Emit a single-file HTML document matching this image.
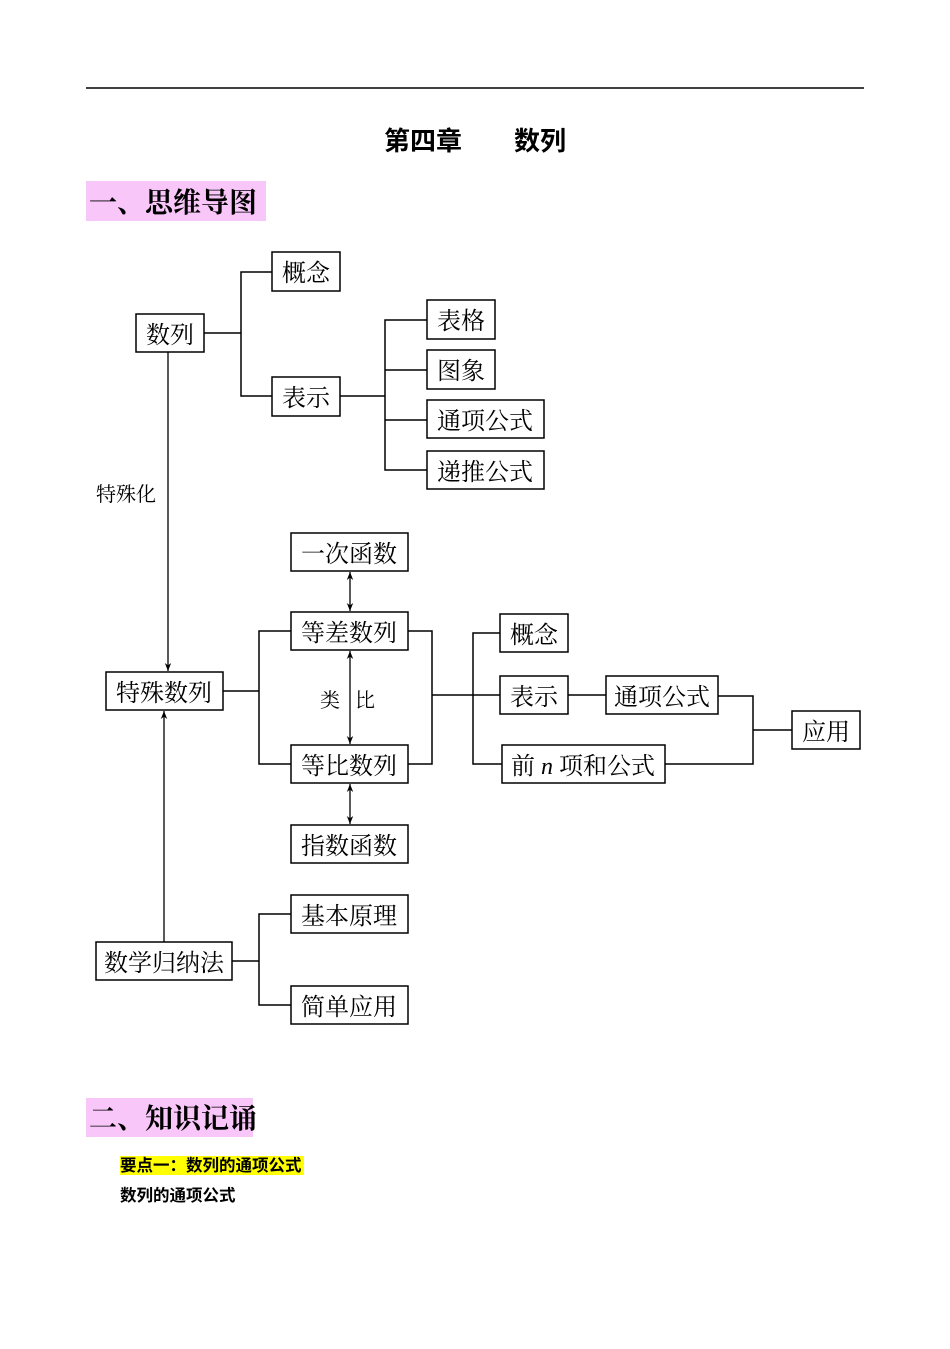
<!DOCTYPE html>
<html><head><meta charset="utf-8"><style>
html,body{margin:0;padding:0;background:#fff;}
body{width:950px;height:1344px;overflow:hidden;}
svg text{font-family:"Liberation Serif","Noto Serif CJK SC",serif;}
</style></head><body>
<svg width="950" height="1344" xmlns="http://www.w3.org/2000/svg">
<defs>
<marker id="a" viewBox="0 0 10 10" refX="10" refY="5" markerWidth="8" markerHeight="8" orient="auto-start-reverse" markerUnits="userSpaceOnUse"><path d="M0,1 L10,5 L0,9 L3,5 Z" fill="#000"/></marker>
</defs>
<line x1="86" y1="88" x2="864" y2="88" stroke="#000" stroke-width="1.5"/>
<text x="475" y="150" text-anchor="middle" font-size="26" font-weight="bold" style="font-family:'Liberation Sans','Noto Sans CJK SC',sans-serif">第四章　　数列</text>
<rect x="86" y="181" width="180" height="40" fill="#f9c6f9"/>
<text x="89" y="212" font-size="28" font-weight="bold">一、思维导图</text>
<rect x="86" y="1098" width="167" height="39" fill="#f9c6f9"/>
<text x="89" y="1128" font-size="28" font-weight="bold">二、知识记诵</text>
<rect x="120" y="1156" width="184" height="19" fill="#ffff00"/>
<text x="120" y="1171" font-size="16.5" font-weight="bold" style="font-family:'Liberation Sans','Noto Sans CJK SC',sans-serif">要点一：数列的通项公式</text>
<text x="120" y="1201" font-size="16.5" font-weight="bold" style="font-family:'Liberation Sans','Noto Sans CJK SC',sans-serif">数列的通项公式</text>
<g fill="#fff" stroke="#000" stroke-width="1.5">
<rect x="272" y="252" width="68" height="39"/>
<rect x="136" y="314" width="68" height="38"/>
<rect x="272" y="377" width="68" height="39"/>
<rect x="427" y="300" width="68" height="39"/>
<rect x="427" y="350" width="68" height="39"/>
<rect x="427" y="400" width="117" height="38"/>
<rect x="427" y="451" width="117" height="38"/>
<rect x="291" y="533" width="117" height="38"/>
<rect x="291" y="612" width="117" height="38"/>
<rect x="106" y="672" width="117" height="38"/>
<rect x="291" y="745" width="117" height="38"/>
<rect x="291" y="825" width="117" height="38"/>
<rect x="500" y="614" width="68" height="38"/>
<rect x="500" y="676" width="68" height="38"/>
<rect x="606" y="676" width="112" height="38"/>
<rect x="502" y="745" width="163" height="38"/>
<rect x="792" y="711" width="68" height="38"/>
<rect x="291" y="895" width="117" height="38"/>
<rect x="96" y="942" width="136" height="38"/>
<rect x="291" y="986" width="117" height="38"/>
</g>
<g fill="none" stroke="#000" stroke-width="1.5">
<path d="M204,333H241M272,272H241V396H272"/>
<path d="M340,396H385M427,320H385V470H427M385,370H427M385,420H427"/>
<path d="M223,691H259M291,631H259V764H291"/>
<path d="M408,631H432V764H408M432,695H500M500,633H473V764H502"/>
<path d="M568,695H606M718,696H753V764H665M753,730H792"/>
<path d="M232,961H259M291,914H259V1005H291"/>
</g>
<g stroke="#000" stroke-width="1.3">
<line x1="168" y1="352" x2="168" y2="671" marker-end="url(#a)"/>
<line x1="164" y1="942" x2="164" y2="711" marker-end="url(#a)"/>
<line x1="350" y1="572" x2="350" y2="611" marker-start="url(#a)" marker-end="url(#a)"/>
<line x1="350" y1="651" x2="350" y2="744" marker-start="url(#a)" marker-end="url(#a)"/>
<line x1="350" y1="784" x2="350" y2="824" marker-start="url(#a)" marker-end="url(#a)"/>
</g>
<g font-size="24" text-anchor="middle">
<text x="306" y="281">概念</text>
<text x="170" y="343">数列</text>
<text x="306" y="406">表示</text>
<text x="461" y="329">表格</text>
<text x="461" y="379">图象</text>
<text x="485" y="429">通项公式</text>
<text x="485" y="480">递推公式</text>
<text x="349" y="562">一次函数</text>
<text x="349" y="641">等差数列</text>
<text x="164" y="701">特殊数列</text>
<text x="349" y="774">等比数列</text>
<text x="349" y="854">指数函数</text>
<text x="534" y="643">概念</text>
<text x="534" y="705">表示</text>
<text x="662" y="705">通项公式</text>
<text x="583" y="774">前 <tspan font-style="italic">n</tspan> 项和公式</text>
<text x="826" y="740">应用</text>
<text x="349" y="924">基本原理</text>
<text x="164" y="971">数学归纳法</text>
<text x="349" y="1015">简单应用</text>
</g>
<g font-size="20">
<text x="96" y="501">特殊化</text>
<text x="320" y="707">类</text>
<text x="355" y="707">比</text>
</g>
</svg>
</body></html>
